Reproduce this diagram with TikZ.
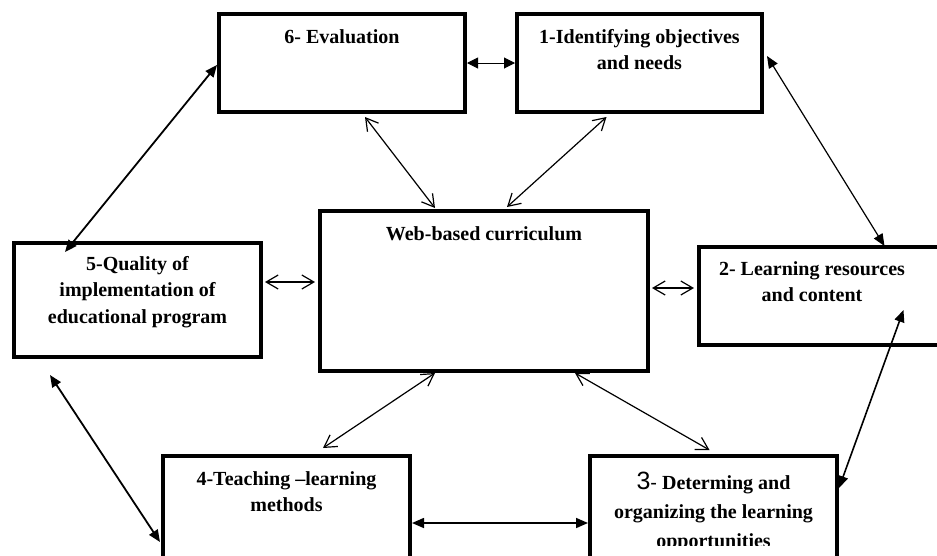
\documentclass[tikz,border=0pt]{standalone}
\usepackage{fontspec}
\setmainfont{Liberation Serif}
\newfontfamily\digitfont{Liberation Sans}
\usetikzlibrary{arrows.meta, positioning, calc}

\begin{document}
\begin{tikzpicture}[x=1pt, y=-1pt,
	stage/.style={draw, line width=4pt, rectangle, inner sep=0pt},
	lbl/.style={inner sep=0pt, align=center, font=\bfseries\fontsize{20}{26.5}\selectfont},
	link/.style={line width=1.2pt, {Straight Barb[length=12pt,width=14pt]}-{Straight Barb[length=12pt,width=14pt]}},
	flink/.style={line width=1.6pt, {Triangle[length=12pt,width=10pt]}-{Triangle[length=12pt,width=10pt]}}]
				\useasboundingbox (0,0) rectangle (937,555);

				\node[stage, minimum width=246pt, minimum height=98pt] (e6) at (342,63) {};
				\node[lbl, below=17pt of e6.north] (t6) {6- Evaluation};

				\node[stage, minimum width=245pt, minimum height=98pt] (e1) at (639.5,63) {};
				\node[lbl, below=17pt of e1.north] (t1) {1-Identifying objectives\\and needs};

				\node[stage, minimum width=328pt, minimum height=160pt] (web) at (484,291) {};
				\node[lbl, below=17pt of web.north] (tw) {Web-based curriculum};

				\node[stage, minimum width=247pt, minimum height=114pt] (e5) at (137.5,300) {};
				\node[lbl, below=15pt of e5.north] (t5) {5-Quality of\\implementation of\\educational program};

				\node[stage, minimum width=251pt, minimum height=98pt] (e2) at (824.5,296) {};
				\node[lbl, below=16pt of e2.north, xshift=-12.5pt] (t2) {2- Learning resources\\and content};

				\node[stage, minimum width=247pt, minimum height=104pt] (e4) at (286.5,508) {};
				\node[lbl, below=17pt of e4.north] (t4) {4-Teaching –learning\\methods};

				\node[stage, minimum width=247pt, minimum height=104pt] (e3) at (713.5,508) {};
				\begin{scope}
				\clip (590,456) rectangle ($(e3.east)+(0,37)$);
				\node[lbl, font=\bfseries\fontsize{20}{29}\selectfont, below=18pt of e3.north] (t3)
				{{\digitfont\mdseries\fontsize{25}{29}\selectfont 3}{\digitfont\mdseries -} Determing and\\organizing the learning\\opportunities};
				\end{scope}

				\draw[flink, line width=1pt, {Triangle[length=11pt,width=11pt]}-{Triangle[length=11pt,width=11pt]}] (e6.east) -- (e1.west);
				\draw[flink, line width=1.8pt] ($(e6.west)+(0,2)$) -- ($(e5.north west)+(53,11)$);
				\draw[flink, line width=1.2pt] ($(e1.east)+(3,-7)$) -- ($(e2.north)+(60,1)$);
				\draw[flink, line width=1.8pt] ($(e5.south west)+(38,16)$) -- ($(e4.west)+(-1,34)$);
				\draw[flink] ($(e4.east)+(0,15)$) -- ($(e3.west)+(0,15)$);
				\draw[flink] ($(e2.south)+(79,-37)$) -- ($(e3.east)+(0,-20)$);

				\draw[link] ($(e6.south)+(23,3)$) -- ($(web.north)+(-49,-1)$);
				\draw[link] ($(e1.south)+(-33,3)$) -- ($(web.north)+(23,-2)$);
				\draw[link] ($(e5.east)+(2,-18)$) -- ($(web.west)+(-3,-9)$);
				\draw[link] ($(web.east)+(2,-3)$) -- ($(e2.west)+(-3,-8)$);
				\draw[link] ($(web.south)+(-49,0)$) -- ($(e4.north)+(36.5,-6)$);
				\draw[link] ($(web.south)+(91,0)$) -- ($(e3.north)+(-4,-4)$);
			\end{tikzpicture}
\end{document}
